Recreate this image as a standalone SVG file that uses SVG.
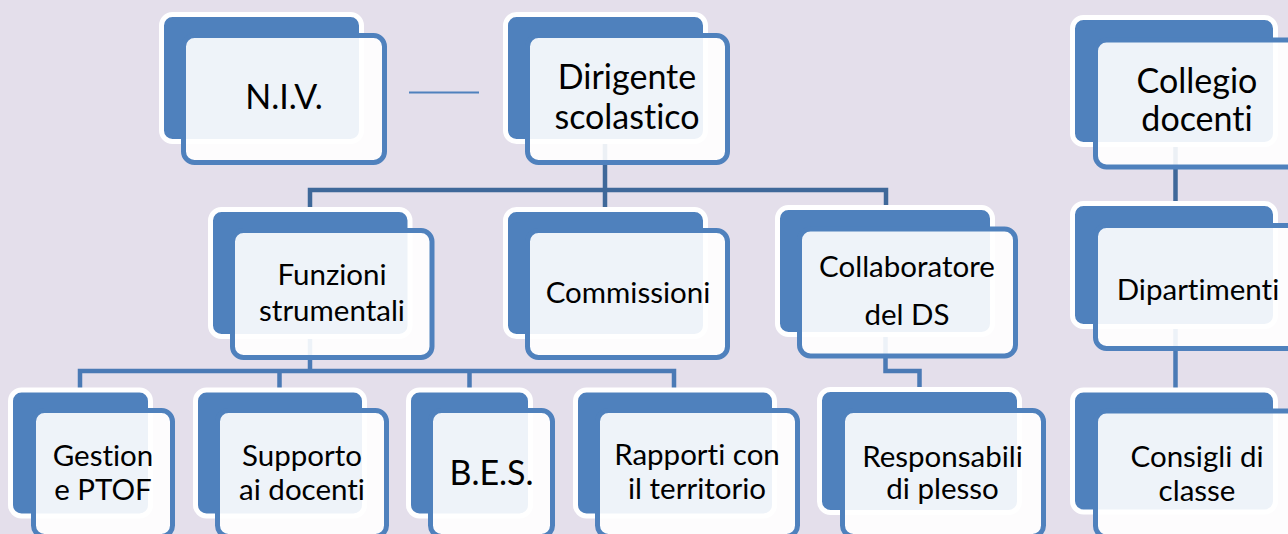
<svg xmlns="http://www.w3.org/2000/svg" width="1288" height="534" viewBox="0 0 1288 534">
<style>
.bk{fill:#4F81BD;stroke:#FFFFFF;stroke-width:5}
.fr{fill:#FFFFFF;fill-opacity:0.9;stroke:#4F81BD;stroke-width:5}
.t{font-family:Lato,"Liberation Sans",sans-serif;fill:#000;text-anchor:middle;font-variant-ligatures:none;font-feature-settings:"liga" 0,"clig" 0}
.big{font-size:34px}
.med{font-size:29.5px}
.c1{fill:none;stroke:#3F6899;stroke-width:4.5}
.c2{fill:none;stroke:#4A7AB5;stroke-width:4.5}
</style>
<rect x="0" y="0" width="1288" height="534" fill="#E4DFEB"/>
<g id="connectors">
<path class="c1" d="M605,140 V190 M310,209 V190 H886 V209 M605,190 V209"/>
<path class="c1" d="M1175.5,144 V204"/>
<path class="c2" d="M310,336 V371 M80,389 V371 H674 V389 M279.5,371 V389 M469.5,371 V389"/>
<path class="c2" d="M885.5,334 V371 H919.5 V389"/>
<path class="c2" d="M1175.5,326 V390"/>
<path d="M409,92.5 H479" stroke="#4F81BD" stroke-width="2" fill="none"/>
</g>
<g id="niv"><rect class="bk" x="161.5" y="14.5" width="200" height="127" rx="11"/><rect class="fr" x="183.5" y="35.5" width="201" height="127" rx="11"/><text class="t big" x="284" y="109">N.I.V.</text></g>
<g id="dirigente"><rect class="bk" x="505.5" y="14.5" width="200" height="127" rx="11"/><rect class="fr" x="527.5" y="35.5" width="200" height="127" rx="11"/><text class="t big" x="627" y="89">Dirigente</text><text class="t big" x="627" y="129">scolastico</text></g>
<g id="collegio"><rect class="bk" x="1072.5" y="17.5" width="203" height="127" rx="11"/><rect class="fr" x="1095.5" y="40" width="203" height="127" rx="11"/><text class="t big" x="1197" y="92.5">Collegio</text><text class="t big" x="1197" y="131">docenti</text></g>
<g id="funzioni"><rect class="bk" x="210.5" y="209.5" width="199.5" height="127" rx="11"/><rect class="fr" x="232.5" y="230.5" width="199.5" height="127" rx="11"/><text class="t med" x="332" y="285">Funzioni</text><text class="t med" x="332" y="321">strumentali</text></g>
<g id="commissioni"><rect class="bk" x="505.5" y="209.5" width="200" height="127" rx="11"/><rect class="fr" x="527.5" y="230.5" width="200" height="127" rx="11"/><text class="t med" x="628" y="303">Commissioni</text></g>
<g id="collaboratore"><rect class="bk" x="777.5" y="207.5" width="215" height="127" rx="11"/><rect class="fr" x="799.5" y="229" width="216" height="127" rx="11"/><text class="t med" x="907" y="277">Collaboratore</text><text class="t med" x="907" y="325">del DS</text></g>
<g id="dipartimenti"><rect class="bk" x="1072.5" y="203.5" width="203" height="123" rx="11"/><rect class="fr" x="1095.5" y="225.5" width="203" height="123" rx="11"/><text class="t med" x="1198" y="299.5">Dipartimenti</text></g>
<g id="gestion"><rect class="bk" x="10.5" y="390" width="140" height="126" rx="11"/><rect class="fr" x="33.5" y="410.5" width="139" height="126" rx="11"/><text class="t med" x="103" y="466">Gestion</text><text class="t med" x="103" y="500">e PTOF</text></g>
<g id="supporto"><rect class="bk" x="195.5" y="390" width="169" height="126" rx="11"/><rect class="fr" x="217.5" y="410.5" width="169" height="126" rx="11"/><text class="t med" x="302" y="466">Supporto</text><text class="t med" x="302" y="500">ai docenti</text></g>
<g id="bes"><rect class="bk" x="408.5" y="390" width="122" height="126" rx="11"/><rect class="fr" x="430.5" y="410.5" width="122" height="126" rx="11"/><text class="t big" x="491.5" y="485">B.E.S.</text></g>
<g id="rapporti"><rect class="bk" x="575.5" y="390" width="199" height="126" rx="11"/><rect class="fr" x="597.5" y="410.5" width="200" height="126" rx="11"/><text class="t med" x="697" y="465">Rapporti con</text><text class="t med" x="697" y="499">il territorio</text></g>
<g id="responsabili"><rect class="bk" x="819.5" y="389.5" width="200" height="123" rx="11"/><rect class="fr" x="842.5" y="410.5" width="201" height="126" rx="11"/><text class="t med" x="942.5" y="466.5">Responsabili</text><text class="t med" x="942.5" y="498.5">di plesso</text></g>
<g id="consigli"><rect class="bk" x="1072.5" y="390" width="203" height="122" rx="11"/><rect class="fr" x="1095.5" y="411" width="203" height="126" rx="11"/><text class="t med" x="1197" y="466.5">Consigli di</text><text class="t med" x="1197" y="500.5">classe</text></g>
</svg>
